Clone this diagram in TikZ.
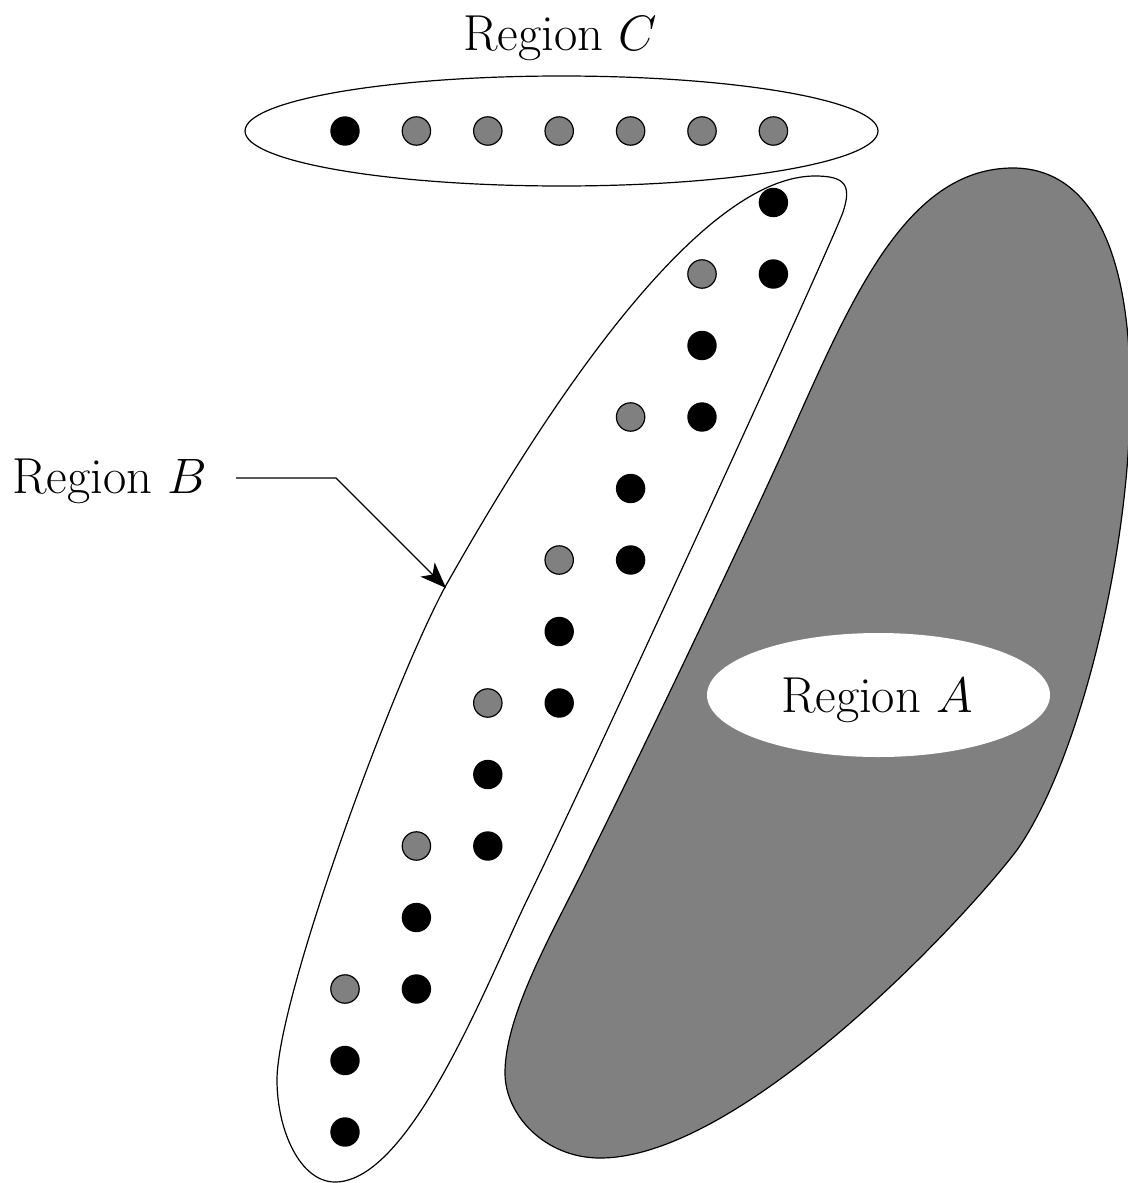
\documentclass[tikz,border=0pt]{standalone}
\usetikzlibrary{shapes.geometric,arrows.meta}
\begin{document}
\begin{tikzpicture}[x=0.5pt,y=-0.5pt,
  outline/.style={line width=0.6pt},
  blackdot/.style={circle,fill=black,minimum size=14.7pt,inner sep=0pt},
  graydot/.style={circle,fill=gray,draw=black,line width=0.6pt,minimum size=14.2pt,inner sep=0pt},
  lbl/.style={font=\fontsize{25.3}{30}\selectfont,inner sep=0pt}]
\useasboundingbox (0,0) rectangle (1128,1183);
\clip (0,0) rectangle (1128,1183);

% Region A: shaded blob with a white label ellipse
\filldraw[outline,fill=gray,draw=black]
  (1013,168) .. controls (1090,168) and (1132,250) .. (1130,400)
  .. controls (1130,550) and (1080,760) .. (1017,850)
  .. controls (960,925) and (740,1158) .. (600,1158)
  .. controls (545,1158) and (505,1115) .. (505,1073)
  .. controls (505,1010) and (560,920) .. (593,850)
  .. controls (650,735) and (745,535) .. (780,458)
  .. controls (845,315) and (900,168) .. cycle;
\node[ellipse,fill=white,minimum width=171.5pt,minimum height=62pt,inner sep=0pt] (regionA) at (878.5,695) {};
\node[lbl,anchor=base] (labelA) at (877,712) {Region $A$};

% Region B: outlined blob
\draw[outline]
  (843,212) .. controls (835,237) and (600,750) .. (527,900)
  .. controls (486,985) and (410,1182) .. (335,1182)
  .. controls (300,1182) and (277,1130) .. (277,1080)
  .. controls (277,1000) and (390,690) .. (445,587)
  .. controls (500,490) and (680,176) .. (815,176)
  .. controls (845,176) and (852,185) .. cycle;

% Region C: ellipse around the top row
\node[ellipse,draw,outline,minimum width=316.5pt,minimum height=55pt,inner sep=0pt] (regionC) at (561.5,131) {};
\node[lbl,anchor=base] (labelC) at (560,50) {Region $C$};

% Top row of points
\node[blackdot] (c0) at (345,131) {};
\foreach \i in {1,...,6}
  \node[graydot] (c\i) at ({345+71.4*\i},131) {};

% Diagonal band of points
\foreach \m in {0,...,6}
  \node[blackdot] (bo\m) at ({345+71.4*(6-\m)},{131+71.5*(2*\m+1)}) {};
\foreach \m in {1,...,6}{
  \node[graydot] (bg\m) at ({345+71.4*(6-\m)},{131+71.5*(2*\m)}) {};
  \node[blackdot] (be\m) at ({345+71.4*(7-\m)},{131+71.5*(2*\m)}) {};
}
\node[blackdot] (blast) at (345,{131+71.5*14}) {};

% Label of region B with its pointer
\node[lbl,anchor=base west] (labelB) at (12,493) {Region $B$};
\coordinate (bStart) at (236,478);
\coordinate (bKnee) at (336,478);
\coordinate (bTip) at (446,588);
\draw[outline,-{Stealth[length=13pt,width=10pt,inset=3.5pt]}] (bStart) -- (bKnee) -- (bTip);
\end{tikzpicture}
\end{document}
